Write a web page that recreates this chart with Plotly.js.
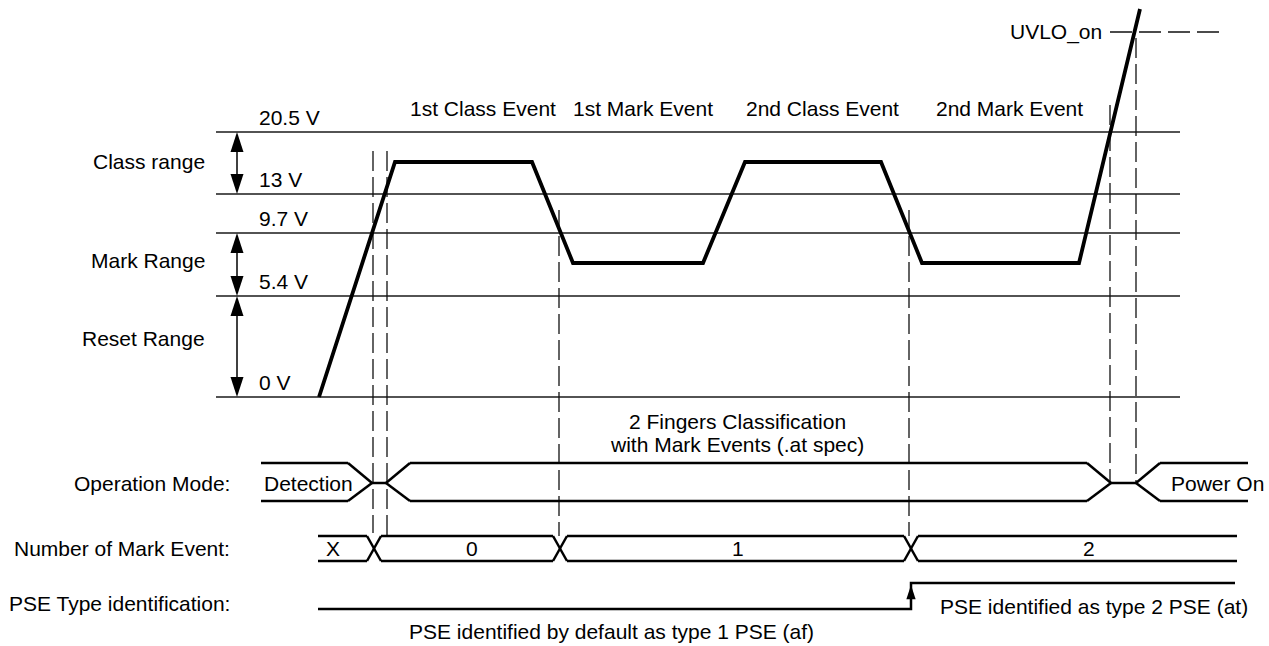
<!DOCTYPE html>
<html>
<head>
<meta charset="utf-8">
<script src="https://cdn.plot.ly/plotly-3.0.1.min.js"></script>
<style>
html,body{margin:0;padding:0;background:#fff;}
#chart{width:1269px;height:646px;}
</style>
</head>
<body>
<div id="chart"></div>
<script>
// ---------- DATA (diagram units: horizontal = time, vertical = schematic row) ----------
// Voltage thresholds
const levelLabels = ['20.5 V', '13 V', '9.7 V', '5.4 V', '0 V'];
const levelRow    = [132, 194, 233, 296, 397];
// Voltage ranges
const rangeLabels = ['Class range', 'Mark Range', 'Reset Range'];
const rangeFrom   = [132, 233, 296];
const rangeTo     = [194, 296, 397];
const rangeLabelRow = [161, 260, 338];
// PD voltage waveform
const waveTime = [319, 395, 532, 573, 703, 745, 881, 922, 1079, 1140];
const waveRow  = [397, 162, 162, 263, 263, 162, 162, 263, 263, 9];
// Event names over the waveform
const eventLabels = ['1st Class Event', '1st Mark Event', '2nd Class Event', '2nd Mark Event'];
const eventTime   = [483, 643, 822, 1009];
// Vertical timing markers (dashed)
const markerTime   = [373, 387, 559, 909, 1110, 1136];
const markerTop    = [151, 151, 210, 210, 105, 38];
const markerBottom = [533, 538, 536, 536, 483, 483];
// UVLO threshold
const uvloLabel = 'UVLO_on';
const uvloRow = 32;
const uvloSpan = [1110, 1219];
// Operation mode bus
const modeLabels = ['Detection', 'Power On'];
const modeLabelTime = [262, 1169];
const modeStart = [261, 386, 1136];
const modeEnd   = [372, 1111, 1248];
const classModeText = ['2 Fingers Classification', 'with Mark Events (.at spec)'];
// Number of mark events bus
const markCountLabels = ['X', '0', '1', '2'];
const markCountTime   = [333, 472, 738, 1089];
const markCross = [374, 560, 911];
const markBusSpan = [318, 1237];
// PSE type identification
const pseStart = 318, pseStep = 911, pseEnd = 1235;
const pseTexts = ['PSE identified by default as type 1 PSE (af)', 'PSE identified as type 2 PSE (at)'];
// Row labels
const rowLabels = ['Operation Mode:', 'Number of Mark Event:', 'PSE Type identification:'];

// ---------- LAYOUT CONSTANTS ----------
const FONT = 'Liberation Sans, Arial, Helvetica, sans-serif';
const FS = 21;
const levelSpan = [216, 1180];
const arrowX = 237;
const modeTop = 463, modeMid = 483, modeBot = 501, ramp = 24;
const busTop = 536, busBot = 561, crossHalf = 7;
const pseLow = 609, pseHigh = 583;

const traces = [];
function seg(xs, ys, x0, y0, x1, y1) { xs.push(x0, x1, null); ys.push(y0, y1, null); }

// level lines
{
  const xs = [], ys = [];
  levelRow.forEach(r => seg(xs, ys, levelSpan[0], r, levelSpan[1], r));
  traces.push({x: xs, y: ys, mode: 'lines', line: {color: '#1a1a1a', width: 1.5}});
}
// dashed markers + UVLO dashed
{
  const xs = [], ys = [];
  markerTime.forEach((t, i) => seg(xs, ys, t, markerTop[i], t, markerBottom[i]));
  traces.push({x: xs, y: ys, mode: 'lines', line: {color: '#111', width: 1.3, dash: '20px,6px'}});
  traces.push({x: uvloSpan, y: [uvloRow, uvloRow], mode: 'lines', line: {color: '#111', width: 1.3, dash: '22px,7px'}});
}
// waveform
traces.push({x: waveTime, y: waveRow, mode: 'lines', line: {color: '#000', width: 3.8}});

// range arrows
{
  const xs = [], ys = [], ax = [], ay = [], ang = [];
  rangeFrom.forEach((f, i) => {
    seg(xs, ys, arrowX, f + 8, arrowX, rangeTo[i] - 8);
    ax.push(arrowX, arrowX); ay.push(f, rangeTo[i]); ang.push(0, 180);
  });
  traces.push({x: xs, y: ys, mode: 'lines', line: {color: '#000', width: 1.5}});
  traces.push({x: ax, y: ay, mode: 'markers', marker: {symbol: 'arrow', size: 21, angle: ang, color: '#000', line: {width: 0}}});
}

// operation mode bus
{
  const xs = [], ys = [];
  for (let i = 0; i < modeStart.length; i++) {
    const hasL = i > 0, hasR = i < modeStart.length - 1;
    const a = hasL ? modeStart[i] + ramp : modeStart[i];
    const b = hasR ? modeEnd[i] - ramp : modeEnd[i];
    seg(xs, ys, a, modeTop, b, modeTop);
    seg(xs, ys, a, modeBot, b, modeBot);
    if (hasL) { seg(xs, ys, modeStart[i], modeMid, a, modeTop); seg(xs, ys, modeStart[i], modeMid, a, modeBot); }
    if (hasR) {
      seg(xs, ys, b, modeTop, modeEnd[i], modeMid); seg(xs, ys, b, modeBot, modeEnd[i], modeMid);
      seg(xs, ys, modeEnd[i], modeMid, modeStart[i + 1], modeMid);
    }
  }
  traces.push({x: xs, y: ys, mode: 'lines', line: {color: '#000', width: 2.5}});
}
// mark count bus
{
  const xs = [], ys = [];
  const bounds = [markBusSpan[0]].concat(markCross, [markBusSpan[1]]);
  for (let i = 0; i < bounds.length - 1; i++) {
    const a = i > 0 ? bounds[i] + crossHalf : bounds[i];
    const b = i < bounds.length - 2 ? bounds[i + 1] - crossHalf : bounds[i + 1];
    seg(xs, ys, a, busTop, b, busTop);
    seg(xs, ys, a, busBot, b, busBot);
  }
  markCross.forEach(c => {
    seg(xs, ys, c - crossHalf, busTop, c + crossHalf, busBot);
    seg(xs, ys, c - crossHalf, busBot, c + crossHalf, busTop);
  });
  traces.push({x: xs, y: ys, mode: 'lines', line: {color: '#000', width: 2.5}});
}
// PSE type line
traces.push({x: [pseStart, pseStep, pseStep, pseEnd], y: [pseLow, pseLow, pseHigh, pseHigh],
  mode: 'lines', line: {color: '#000', width: 2.5}});
traces.push({x: [pseStep], y: [pseHigh + 2], mode: 'markers',
  marker: {symbol: 'arrow', size: 15, angle: [0], color: '#000', line: {width: 0}}});

// ---------- ANNOTATIONS ----------
const ann = [];
function txt(t, x, y, xa) {
  ann.push({text: t, x: x, y: y, xref: 'x', yref: 'y', showarrow: false,
    xanchor: xa || 'center', yanchor: 'middle', font: {family: FONT, size: FS, color: '#000'}});
}
levelLabels.forEach((l, i) => txt(l, 257, levelRow[i] - 15, 'left'));
rangeLabels.forEach((l, i) => txt(l, 207, rangeLabelRow[i], 'right'));
eventLabels.forEach((l, i) => txt(l, eventTime[i], 108, 'center'));
txt(uvloLabel, 1104, uvloRow, 'right');
modeLabels.forEach((l, i) => txt(l, modeLabelTime[i], modeMid, 'left'));
txt(classModeText[0], 737, 421, 'center');
txt(classModeText[1], 737, 444, 'center');
markCountLabels.forEach((l, i) => txt(l, markCountTime[i], 548, 'center'));
txt(pseTexts[0], 611, 631, 'center');
txt(pseTexts[1], 938, 606, 'left');
txt(rowLabels[0], 232, modeMid, 'right');
txt(rowLabels[1], 232, 548, 'right');
txt(rowLabels[2], 232, 603, 'right');

const layout = {
  width: 1269, height: 646, autosize: false,
  margin: {l: 0, r: 0, t: 0, b: 0, pad: 0},
  paper_bgcolor: '#fff', plot_bgcolor: '#fff',
  showlegend: false, hovermode: false,
  xaxis: {range: [0, 1269], visible: false, fixedrange: true},
  yaxis: {range: [646, 0], visible: false, fixedrange: true},
  annotations: ann
};
traces.forEach(t => { t.type = 'scatter'; t.hoverinfo = 'skip'; t.cliponaxis = false; });
Plotly.newPlot('chart', traces, layout, {staticPlot: true, displayModeBar: false});
</script>
</body>
</html>
